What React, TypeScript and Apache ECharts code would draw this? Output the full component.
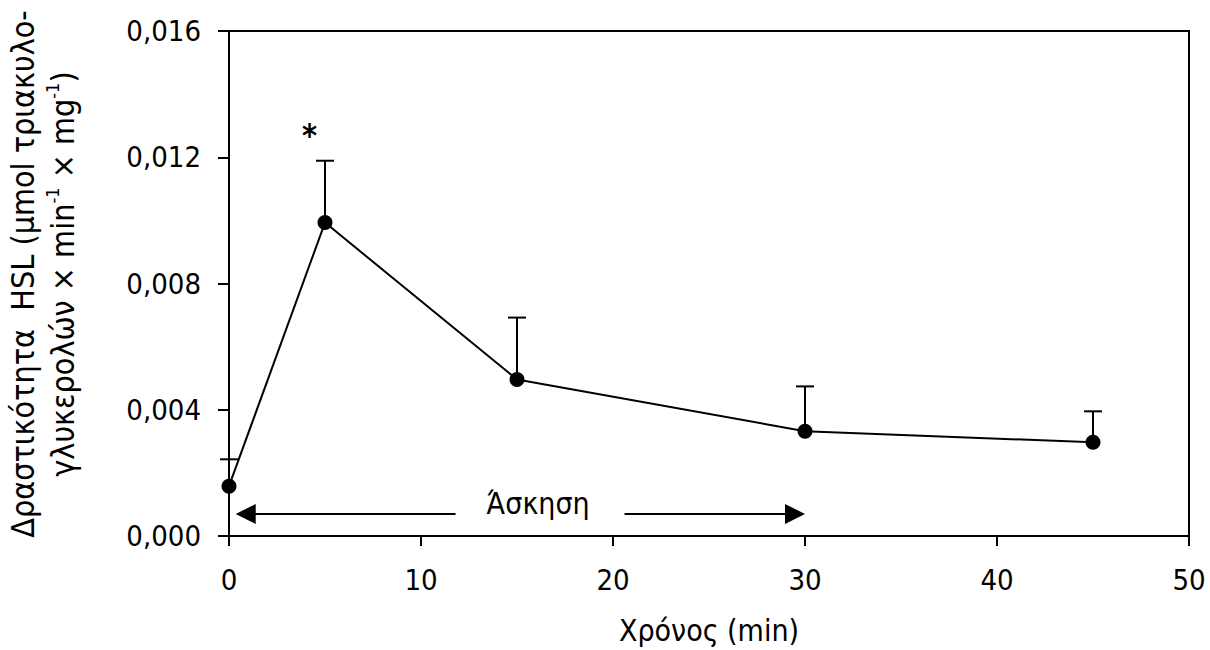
import React, { useEffect, useRef } from "react";
import * as echarts from "echarts";

const timeMin = [0, 5, 15, 30, 45];
const hslActivity = [0.00158, 0.00993, 0.00496, 0.00332, 0.00297];
const errorUpper = [0.00243, 0.01189, 0.00692, 0.00474, 0.00395];
const xTicks = { min: 0, max: 50, interval: 10 };
const yTicks = { min: 0, max: 0.016, interval: 0.004 };
const starMark = [[4.2, 0.0127]];
// arrow: [xStart, xEnd, y, gapStart, gapEnd, labelX, labelY]
const exerciseArrow = [[0.35, 30, 0.0007, 11.8, 20.6, 16.1, 0.00104]];
const exerciseLabel = "Άσκηση";
const xTitle = "Χρόνος (min)";

const FONT = '"DejaVu Sans Condensed", "DejaVu Sans", sans-serif';

export default function App() {
  const ref = useRef<HTMLDivElement>(null);
  useEffect(() => {
    if (!ref.current) return;
    const chart = echarts.init(ref.current, undefined, { renderer: "svg" });
    const errData = timeMin.map((t, i) => [t, hslActivity[i], errorUpper[i]]);
    const option: any = {
      animation: false,
      backgroundColor: "#ffffff",
      textStyle: { fontFamily: FONT },
      grid: {
        left: 229,
        right: 21,
        top: 31,
        bottom: 114,
        show: true,
        borderColor: "#000",
        borderWidth: 2,
        backgroundColor: "transparent",
      },
      xAxis: {
        type: "value",
        min: xTicks.min,
        max: xTicks.max,
        interval: xTicks.interval,
        name: xTitle,
        nameLocation: "middle",
        nameGap: 79,
        nameTextStyle: { fontFamily: FONT, fontSize: 30, color: "#000" },
        axisLine: { show: true, lineStyle: { color: "#000", width: 2 } },
        axisTick: { show: true, inside: false, length: 10, lineStyle: { color: "#000", width: 2 } },
        axisLabel: { fontFamily: FONT, fontSize: 29, color: "#000", margin: 29 },
        splitLine: { show: false },
      },
      yAxis: {
        type: "value",
        min: yTicks.min,
        max: yTicks.max,
        interval: yTicks.interval,
        axisLine: { show: true, lineStyle: { color: "#000", width: 2 } },
        axisTick: { show: true, inside: false, length: 11, lineStyle: { color: "#000", width: 2 } },
        axisLabel: {
          fontFamily: FONT,
          fontSize: 29,
          color: "#000",
          margin: 28,
          formatter: (v: number) => v.toFixed(3).replace(".", ","),
        },
        splitLine: { show: false },
      },
      graphic: [
        {
          type: "text",
          x: 43,
          y: 274,
          rotation: Math.PI / 2,
          style: {
            text: "Δραστικότητα  HSL (μmol τριακυλο-\nγλυκερολών × min{sup|-1} × mg{sup|-1})",
            fontFamily: FONT,
            fontSize: 32,
            fill: "#000",
            align: "center",
            verticalAlign: "middle",
            lineHeight: 40,
            rich: {
              sup: { fontSize: 18, fontFamily: FONT, verticalAlign: "top", lineHeight: 20, fill: "#000" },
            },
          },
        },
      ],
      series: [
        {
          type: "custom",
          name: "err",
          z: 1,
          data: errData,
          clip: false,
          renderItem: (params: any, api: any) => {
            const x = api.value(0);
            const p0 = api.coord([x, api.value(1)]);
            const p1 = api.coord([x, api.value(2)]);
            const half = 9;
            return {
              type: "group",
              children: [
                { type: "line", shape: { x1: p0[0], y1: p0[1], x2: p1[0], y2: p1[1] }, style: { stroke: "#000", lineWidth: 2 } },
                { type: "line", shape: { x1: p1[0] - half, y1: p1[1], x2: p1[0] + half, y2: p1[1] }, style: { stroke: "#000", lineWidth: 2 } },
              ],
            };
          },
        },
        {
          type: "line",
          name: "HSL",
          z: 3,
          data: timeMin.map((t, i) => [t, hslActivity[i]]),
          symbol: "circle",
          symbolSize: 15,
          itemStyle: { color: "#000" },
          lineStyle: { color: "#000", width: 2 },
        },
        {
          type: "custom",
          name: "star",
          z: 4,
          data: starMark,
          renderItem: (params: any, api: any) => {
            const p = api.coord([api.value(0), api.value(1)]);
            return {
              type: "text",
              x: p[0],
              y: p[1],
              style: { text: "*", fontFamily: FONT, fontWeight: "bold", fontSize: 32, fill: "#000", align: "center", verticalAlign: "middle" },
            };
          },
        },
        {
          type: "custom",
          name: "arrow",
          z: 4,
          clip: false,
          data: exerciseArrow,
          renderItem: (params: any, api: any) => {
            const y = api.value(2);
            const a = api.coord([api.value(0), y]);
            const b = api.coord([api.value(1), y]);
            const g0 = api.coord([api.value(3), y]);
            const g1 = api.coord([api.value(4), y]);
            const lp = api.coord([api.value(5), api.value(6)]);
            const hl = 20;
            const hh = 10;
            return {
              type: "group",
              children: [
                { type: "line", shape: { x1: a[0] + hl - 2, y1: a[1], x2: g0[0], y2: g0[1] }, style: { stroke: "#000", lineWidth: 2 } },
                { type: "line", shape: { x1: g1[0], y1: g1[1], x2: b[0] - hl + 2, y2: b[1] }, style: { stroke: "#000", lineWidth: 2 } },
                { type: "polygon", shape: { points: [[a[0], a[1]], [a[0] + hl, a[1] - hh], [a[0] + hl, a[1] + hh]] }, style: { fill: "#000" } },
                { type: "polygon", shape: { points: [[b[0], b[1]], [b[0] - hl, b[1] - hh], [b[0] - hl, b[1] + hh]] }, style: { fill: "#000" } },
                {
                  type: "text",
                  x: lp[0],
                  y: lp[1],
                  style: { text: exerciseLabel, fontFamily: FONT, fontSize: 30, fill: "#000", align: "center", verticalAlign: "middle" },
                },
              ],
            };
          },
        },
      ],
    };
    chart.setOption(option);
    return () => chart.dispose();
  }, []);
  return <div ref={ref} style={{ width: 1210, height: 650, position: "absolute", left: 0, top: 0 }} />;
}
